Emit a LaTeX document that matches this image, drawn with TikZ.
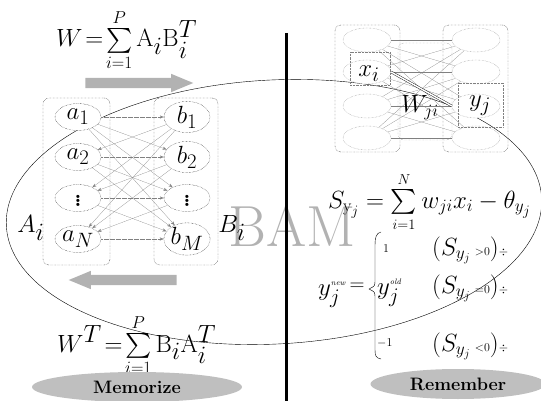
\documentclass[tikz,border=0pt]{standalone}
\usepackage{amsmath}
\usepackage{tikz}
\usetikzlibrary{shapes.geometric,shapes.arrows,arrows.meta}

\tikzset{
  unit/.style={ellipse,draw,densely dotted,fill=white,minimum width=46pt,minimum height=27pt,inner sep=0pt,font=\fontsize{39}{39}\selectfont},
  layer/.style={draw,densely dotted,rounded corners=6pt,inner sep=0pt},
  link/.style={gray,very thin,-{Stealth[length=4pt]}},
  flow/.style={single arrow,fill=gray!60,inner xsep=0pt,inner ysep=5pt,single arrow head extend=4pt,single arrow tip angle=45,minimum height=108pt},
  mode/.style={ellipse,fill=gray!50,minimum width=210pt,minimum height=30pt,inner sep=0pt,font=\fontsize{18}{18}\selectfont\bfseries},
  formula/.style={anchor=base west,inner sep=0pt,font=\fontsize{#1}{#1}\selectfont},
}

\newcommand{\unitcolumn}[4][]{
  \foreach \y/\lab [count=\i] in {#4}{
    \node[unit,#1] (#2\i) at (#3,\y) {\lab};
  }
}

\begin{document}
\begin{tikzpicture}[x=1pt,y=-1pt]
\useasboundingbox (0,0) rectangle (541,401);

% loop round both halves
\draw[rotate around={3:(274,212)}] (274,212) ellipse [x radius=268pt,y radius=132pt];

\node[text=gray!60,font=\fontsize{58}{58}\selectfont] (bam) at (292,226) {BAM};

\coordinate (sepT) at (286,33);
\coordinate (sepB) at (286,401);
\draw[line width=3pt] (sepT) -- (sepB);

% memorize side
\node[layer,minimum width=67pt,minimum height=167pt] (Abox) at (76.5,181.5) {};
\node[layer,minimum width=64pt,minimum height=167pt] (Bbox) at (186,181.5) {};
\unitcolumn{a}{78}{117/$a_{\scriptscriptstyle 1}$,157/$a_{\scriptscriptstyle 2}$,198/$\vdots$,239/$a_{\scriptscriptstyle N}$}
\unitcolumn{b}{187}{117/$b_{\scriptscriptstyle 1}$,157/$b_{\scriptscriptstyle 2}$,198/$\vdots$,239/$b_{\scriptscriptstyle M}$}
\foreach \k in {1,...,4}{
  \draw[link,densely dotted] (a\k) -- (b\k);
  \foreach \l in {1,...,4}{
    \ifnum\k<\l \draw[link] (a\k) -- (b\l); \fi
    \ifnum\k>\l \draw[link] (b\l) -- (a\k); \fi
  }
}
\node[font=\fontsize{33}{33}\selectfont] (Alab) at (31,228) {$A_i$};
\node[font=\fontsize{33}{33}\selectfont] (Blab) at (232,228) {$B_i$};

\node[flow] (toB) at (133,83) {};
\node[flow,shape border rotate=180] (toA) at (129,280) {};

\node[formula=33] (Wfwd) at (56,47)
  {$W\!=\!\sum\limits_{\scriptscriptstyle i=1}^{\scriptscriptstyle P}\mathrm{A}_i\mathrm{B}_i^{T}$};
\node[formula=33] (Wbwd) at (57,352)
  {$W^{T}\!=\!\sum\limits_{\scriptscriptstyle i=1}^{\scriptscriptstyle P}\mathrm{B}_i\mathrm{A}_i^{T}$};

\node[mode] (memo) at (137,387) {Memorize};

% remember side
\node[layer,minimum width=65pt,minimum height=127pt] (Xbox) at (367.5,88.5) {};
\node[layer,minimum width=65pt,minimum height=127pt] (Ybox) at (475.5,88.5) {};
\node[layer,draw=gray,minimum width=54pt,minimum height=97pt] (Wbox) at (425,91.5) {};
\unitcolumn[minimum width=48pt,minimum height=24pt,draw=gray]{x}{367}{40/{},72/{},106/{},138/{}}
\unitcolumn[minimum width=48pt,minimum height=24pt,draw=gray]{y}{476}{40/{},72/{},106/{},138/{}}
\node[draw=gray,densely dotted,minimum width=40pt,minimum height=33pt] (xsel) at (370,68.5) {};
\node[draw=gray,densely dotted,minimum width=45pt,minimum height=44pt] (ysel) at (480.5,105) {};
\foreach \k in {1,...,4}{
  \foreach \l in {1,...,4}{
    \draw[gray,very thin] (x\k) -- (y\l);
  }
}
\draw[double,double distance=1.5pt,thin] (x2.east) -- (y3.west);
\node[font=\fontsize{30}{30}\selectfont] (xlab) at (369,74) {$x_i$};
\node[font=\fontsize{24}{24}\selectfont] (wlab) at (420,108) {$W_{ji}$};
\node[font=\fontsize{30}{30}\selectfont] (ylab) at (480,106) {$y_j$};

\node[formula=27] (Sy) at (328,208)
  {$S_{\mathrm{y}_j}=\sum\limits_{\scriptscriptstyle i=1}^{\scriptscriptstyle N}w_{ji}x_i-\theta_{y_j}$};

\node[formula=28] (ynew) at (318,295) {$y_j^{\mbox{\fontsize{8}{8}\selectfont\itshape new}}$};
\node[font=\fontsize{22}{22}\selectfont] (eq) at (357,287) {$=$};
\draw (381,232) .. controls (376,233) and (375,238) .. (375,245) -- (375,280)
  .. controls (375,286) .. (369,289) .. controls (375,292) .. (375,298) -- (375,350)
  .. controls (375,356) and (376,358) .. (381,359);
\node[formula=12] (one) at (383,252) {1};
\node[formula=28] (yold) at (377,294) {$y_j^{\mbox{\fontsize{8}{8}\selectfont\itshape old}}$};
\node[formula=13] (mone) at (377,346) {$-1$};
\node[formula=26] (case1) at (432,255) {$(S_{y_j}\,{\scriptscriptstyle >0})${\fontsize{12}{12}\selectfont$\div$}};
\node[formula=26] (case2) at (432,293) {$(S_{y_j}\,{\scriptscriptstyle =0})${\fontsize{12}{12}\selectfont$\div$}};
\node[formula=26] (case3) at (432,351) {$(S_{y_j}\,{\scriptscriptstyle <0})${\fontsize{12}{12}\selectfont$\div$}};

\node[mode,minimum width=175pt] (recall) at (458,384) {Remember};
\end{tikzpicture}
\end{document}
